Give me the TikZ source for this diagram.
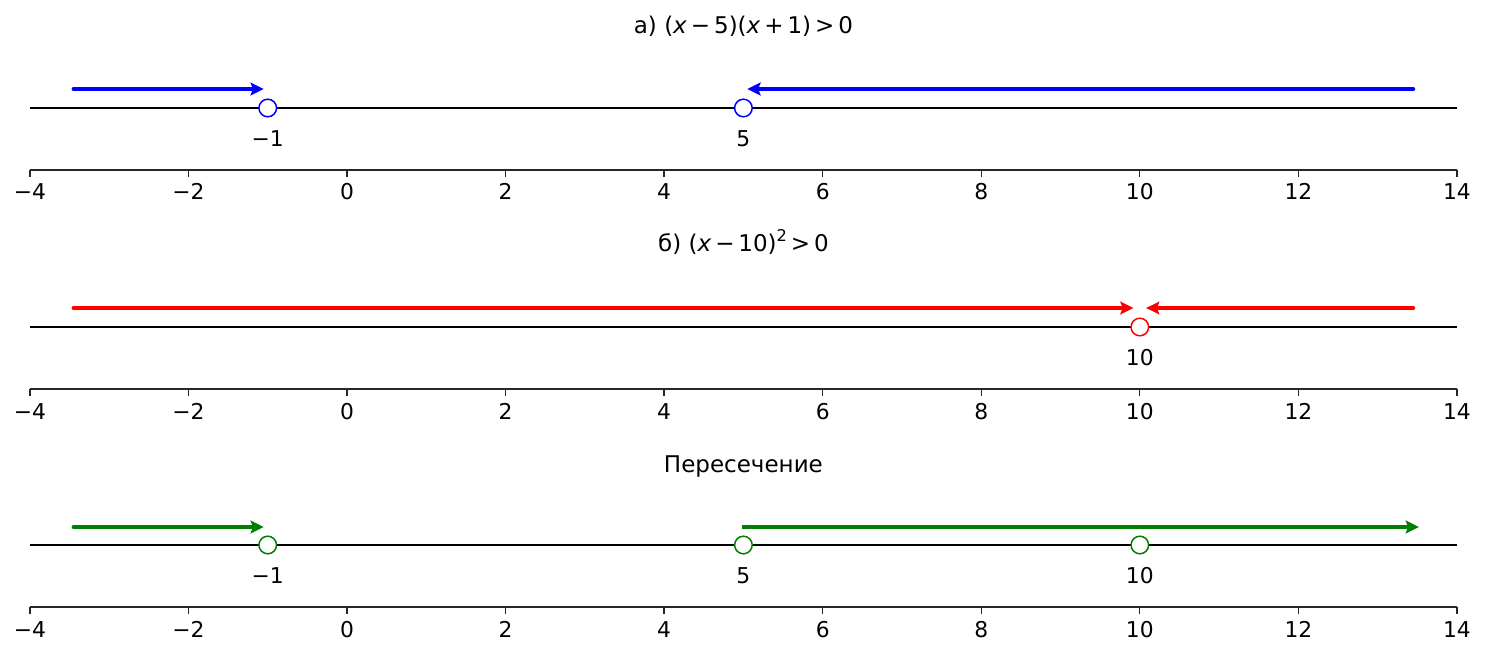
\documentclass[tikz,border=0pt]{standalone}
\usepackage{fontspec}
\setmainfont{DejaVu Sans}
\usetikzlibrary{positioning,arrows.meta}
\definecolor{mplgreen}{RGB}{0,128,0}
\definecolor{spinegray}{RGB}{38,38,38}
\newcommand{\bop}[1]{\hspace{0.17em}#1\hspace{0.17em}}

\begin{document}
\begin{tikzpicture}
                    [x=39.64pt, y=-0.5pt,
                    pt/.style={circle,
                        draw=#1, fill=white,
                        line width=0.75pt, minimum size=8.8pt, inner sep=0pt},
                    ray/.style={draw=#1,
                        line width=1.85pt, line cap=round,
                        -{Stealth[length=6.6pt,width=6.4pt,inset=1.2pt]}},
                    lbl/.style={anchor=base,
                        font=\fontsize{10.9}{12}\selectfont},
                    ttl/.style={anchor=base,
                        font=\fontsize{11.5}{14}\selectfont},
                    numline/.style={line width=0.8pt},
                    spine/.style={draw=spinegray, line width=0.65pt}]

                    \useasboundingbox (-4.377,0) rectangle (14.354,657);

                    \foreach \ly/\sy in {108/170, 327/389, 545/607} {
                        \coordinate (l\ly) at (-4,\ly);
                        \coordinate (r\ly) at (14,\ly);
                        \draw[numline] (l\ly) -- (r\ly);
                        \coordinate (sl\sy) at (-4,\sy);
                        \coordinate (sr\sy) at (14,\sy);
                        \draw[spine] (sl\sy) -- (sr\sy);
                        \foreach \t/\s in {-4/−4, -2/−2, 0/0, 2/2, 4/4,
                                           6/6, 8/8, 10/10, 12/12, 14/14} {
                            \draw[spine] (\t,\sy) -- (\t,\sy+7);
                            \node[lbl] (tick\sy\t) at (\t,\sy+30) {\s};
                        }
                    }

                    \node[ttl] (ta) at (5,34)
                        {а) (\textit{x}\bop{−}5)(\textit{x}\bop{+}1)\bop{>}0};
                    \node[pt=blue] (am1) at (-1,108) {};
                    \node[pt=blue] (a5) at (5,108) {};
                    \node[lbl] (am1l) at (-1,146.5) {−1};
                    \node[lbl] (a5l) at (5,146.5) {5};
                    \coordinate (aL0) at (-3.45,89);
                    \coordinate (aL1) at (-1.05,89);
                    \coordinate (aR0) at (13.45,89);
                    \coordinate (aR1) at (5.05,89);
                    \draw[ray=blue] (aL0) -- (aL1);
                    \draw[ray=blue] (aR0) -- (aR1);

                    \node[ttl] (tb) at (5,252)
                        {б) (\textit{x}\bop{−}10)\raisebox{0.45em}{\fontsize{8.1}{10}\selectfont 2}\bop{>}0};
                    \node[pt=red] (b10) at (10,327) {};
                    \node[lbl] (b10l) at (10,365.5) {10};
                    \coordinate (bL0) at (-3.45,308);
                    \coordinate (bL1) at (9.92,308);
                    \coordinate (bR0) at (13.45,308);
                    \coordinate (bR1) at (10.08,308);
                    \draw[ray=red] (bL0) -- (bL1);
                    \draw[ray=red] (bR0) -- (bR1);

                    \node[ttl] (tc) at (5,472) {Пересечение};
                    \node[pt=mplgreen] (cm1) at (-1,545) {};
                    \node[pt=mplgreen] (c5) at (5,545) {};
                    \node[pt=mplgreen] (c10) at (10,545) {};
                    \node[lbl] (cm1l) at (-1,583.5) {−1};
                    \node[lbl] (c5l) at (5,583.5) {5};
                    \node[lbl] (c10l) at (10,583.5) {10};
                    \coordinate (cL0) at (-3.45,527);
                    \coordinate (cL1) at (-1.05,527);
                    \coordinate (cR0) at (4.98,527);
                    \coordinate (cR1) at (13.52,527);
                    \draw[ray=mplgreen] (cL0) -- (cL1);
                    \draw[ray=mplgreen, line cap=butt] (cR0) -- (cR1);
                \end{tikzpicture}
\end{document}
